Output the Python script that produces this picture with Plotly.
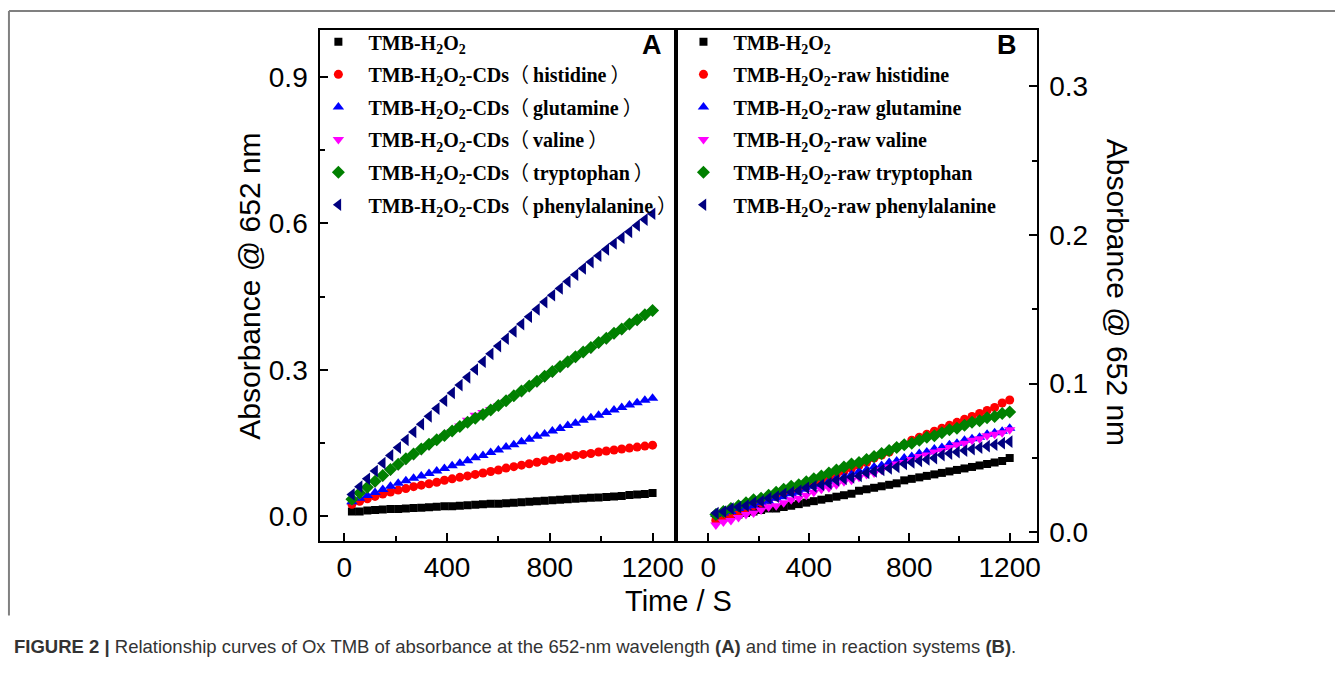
import plotly.graph_objects as go

W, H = 1342, 674

# ---------------- data ----------------
time_s = [30, 60, 90, 120, 150, 180, 210, 240, 270, 300, 330, 360, 390, 420, 450, 480, 510, 540, 570, 600,
          630, 660, 690, 720, 750, 780, 810, 840, 870, 900, 930, 960, 990, 1020, 1050, 1080, 1110, 1140, 1170, 1200]

a_tmb = [0.010, 0.010, 0.012, 0.013, 0.014, 0.015, 0.015, 0.016, 0.017, 0.018, 0.019, 0.020, 0.021, 0.021, 0.022,
         0.023, 0.024, 0.025, 0.026, 0.026, 0.027, 0.028, 0.029, 0.030, 0.031, 0.032, 0.033, 0.034, 0.035, 0.036,
         0.037, 0.038, 0.039, 0.040, 0.041, 0.042, 0.044, 0.045, 0.046, 0.048]
a_histidine = [0.025, 0.031, 0.036, 0.041, 0.046, 0.050, 0.054, 0.057, 0.061, 0.064, 0.067, 0.070, 0.074, 0.077,
               0.080, 0.083, 0.086, 0.089, 0.092, 0.095, 0.099, 0.102, 0.105, 0.108, 0.111, 0.114, 0.117, 0.120,
               0.122, 0.125, 0.127, 0.129, 0.132, 0.134, 0.136, 0.138, 0.140, 0.142, 0.144, 0.146]
a_glutamine = [0.030, 0.037, 0.043, 0.049, 0.055, 0.062, 0.068, 0.073, 0.078, 0.083, 0.088, 0.093, 0.098, 0.104,
               0.109, 0.114, 0.120, 0.125, 0.131, 0.136, 0.142, 0.147, 0.153, 0.158, 0.164, 0.169, 0.175, 0.180,
               0.186, 0.191, 0.197, 0.202, 0.207, 0.213, 0.218, 0.223, 0.228, 0.233, 0.238, 0.242]
a_valine = [0.032, 0.045, 0.057, 0.069, 0.081, 0.093, 0.104, 0.115, 0.125, 0.135, 0.145, 0.155, 0.164, 0.174,
            0.185, 0.197, 0.207, 0.213, 0.219, 0.226, 0.235, 0.245, 0.254, 0.264, 0.274, 0.284, 0.294, 0.304,
            0.314, 0.324, 0.334, 0.343, 0.353, 0.362, 0.372, 0.381, 0.391, 0.400, 0.410, 0.420]
a_tryptophan = [0.035, 0.048, 0.060, 0.072, 0.084, 0.096, 0.107, 0.118, 0.128, 0.138, 0.148, 0.157, 0.166, 0.175,
                0.184, 0.193, 0.201, 0.209, 0.218, 0.227, 0.237, 0.247, 0.257, 0.267, 0.277, 0.287, 0.297, 0.307,
                0.317, 0.327, 0.337, 0.346, 0.356, 0.365, 0.375, 0.384, 0.394, 0.403, 0.413, 0.422]
a_phenylalanine = [0.045, 0.061, 0.077, 0.093, 0.109, 0.125, 0.141, 0.157, 0.173, 0.189, 0.205, 0.221, 0.237,
                   0.253, 0.269, 0.285, 0.301, 0.317, 0.333, 0.349, 0.364, 0.379, 0.394, 0.409, 0.424, 0.439,
                   0.453, 0.467, 0.481, 0.495, 0.508, 0.521, 0.534, 0.547, 0.559, 0.571, 0.583, 0.596, 0.608, 0.620]

b_tmb = [0.009, 0.010, 0.011, 0.012, 0.013, 0.014, 0.015, 0.016, 0.016, 0.017, 0.018, 0.019, 0.020, 0.021, 0.022,
         0.023, 0.024, 0.025, 0.026, 0.028, 0.029, 0.030, 0.031, 0.032, 0.033, 0.035, 0.036, 0.037, 0.038, 0.039,
         0.040, 0.041, 0.042, 0.043, 0.044, 0.045, 0.046, 0.047, 0.048, 0.050]
b_histidine = [0.008, 0.010, 0.012, 0.014, 0.016, 0.018, 0.020, 0.022, 0.024, 0.026, 0.028, 0.029, 0.031, 0.033,
               0.035, 0.037, 0.039, 0.041, 0.043, 0.045, 0.047, 0.050, 0.052, 0.054, 0.057, 0.059, 0.062, 0.064,
               0.066, 0.068, 0.070, 0.072, 0.074, 0.076, 0.078, 0.080, 0.082, 0.084, 0.087, 0.089]
b_glutamine = [0.012, 0.013, 0.014, 0.016, 0.017, 0.018, 0.020, 0.021, 0.023, 0.024, 0.026, 0.027, 0.029, 0.031,
               0.032, 0.034, 0.036, 0.037, 0.039, 0.041, 0.042, 0.044, 0.045, 0.047, 0.048, 0.050, 0.051, 0.053,
               0.054, 0.056, 0.057, 0.059, 0.060, 0.062, 0.063, 0.064, 0.066, 0.067, 0.068, 0.070]
b_valine = [0.005, 0.007, 0.008, 0.010, 0.012, 0.013, 0.015, 0.017, 0.018, 0.020, 0.022, 0.023, 0.025, 0.027,
            0.029, 0.030, 0.032, 0.034, 0.035, 0.037, 0.039, 0.040, 0.042, 0.044, 0.046, 0.047, 0.049, 0.051,
            0.052, 0.054, 0.055, 0.057, 0.059, 0.060, 0.062, 0.063, 0.065, 0.066, 0.067, 0.069]
b_tryptophan = [0.012, 0.014, 0.016, 0.018, 0.020, 0.022, 0.023, 0.025, 0.027, 0.029, 0.031, 0.032, 0.034, 0.036,
                0.038, 0.040, 0.042, 0.044, 0.046, 0.047, 0.049, 0.051, 0.053, 0.055, 0.057, 0.059, 0.060, 0.062,
                0.064, 0.065, 0.067, 0.069, 0.070, 0.072, 0.074, 0.075, 0.077, 0.078, 0.080, 0.081]
b_phenylalanine = [0.013, 0.014, 0.016, 0.017, 0.018, 0.020, 0.021, 0.023, 0.024, 0.026, 0.027, 0.028, 0.030,
                   0.031, 0.032, 0.033, 0.035, 0.036, 0.037, 0.038, 0.040, 0.041, 0.042, 0.043, 0.044, 0.046,
                   0.047, 0.048, 0.049, 0.050, 0.052, 0.053, 0.054, 0.055, 0.056, 0.057, 0.058, 0.059, 0.060, 0.061]

LP = "<span style='font-family:Noto Sans CJK SC;font-weight:normal'>（</span>\u2009"
RP = "\u2009<span style='font-family:Noto Sans CJK SC;font-weight:normal'>）</span>"
names_a = ["TMB-H<sub>2</sub>O<sub>2</sub>",
           "TMB-H<sub>2</sub>O<sub>2</sub>-CDs" + LP + "histidine" + RP,
           "TMB-H<sub>2</sub>O<sub>2</sub>-CDs" + LP + "glutamine" + RP,
           "TMB-H<sub>2</sub>O<sub>2</sub>-CDs" + LP + "valine" + RP,
           "TMB-H<sub>2</sub>O<sub>2</sub>-CDs" + LP + "tryptophan" + RP,
           "TMB-H<sub>2</sub>O<sub>2</sub>-CDs" + LP + "phenylalanine" + RP]
names_b = ["TMB-H<sub>2</sub>O<sub>2</sub>",
           "TMB-H<sub>2</sub>O<sub>2</sub>-raw histidine",
           "TMB-H<sub>2</sub>O<sub>2</sub>-raw glutamine",
           "TMB-H<sub>2</sub>O<sub>2</sub>-raw valine",
           "TMB-H<sub>2</sub>O<sub>2</sub>-raw tryptophan",
           "TMB-H<sub>2</sub>O<sub>2</sub>-raw phenylalanine"]

series_a = [a_tmb, a_histidine, a_glutamine, a_valine, a_tryptophan, a_phenylalanine]
series_b = [b_tmb, b_histidine, b_glutamine, b_valine, b_tryptophan, b_phenylalanine]

colors = ["#000000", "#FF0000", "#0000FF", "#FF00FF", "#008000", "#000080"]
symbols = ["square", "circle", "triangle-up", "triangle-down", "diamond", "triangle-left"]
sizes = [8, 9, 10, 10, 10, 11]

# ---------------- figure ----------------
def px_x(p):
    return p / W


def px_y(p):
    return 1 - p / H


fig = go.Figure()

for i, (nm, ys) in enumerate(zip(names_a, series_a)):
    fig.add_trace(go.Scatter(x=time_s, y=ys, mode="markers", name=nm,
                             marker=dict(symbol=symbols[i], color=colors[i], size=sizes[i], line=dict(width=0)),
                             xaxis="x", yaxis="y", legend="legend", legendgroup="a%d" % i))
for i, (nm, ys) in enumerate(zip(names_b, series_b)):
    fig.add_trace(go.Scatter(x=time_s, y=ys, mode="markers", name=nm,
                             marker=dict(symbol=symbols[i], color=colors[i], size=sizes[i], line=dict(width=0)),
                             xaxis="x2", yaxis="y2", legend="legend2", legendgroup="b%d" % i))

tickfont = dict(family="Liberation Sans, Arial", size=28, color="black")
common = dict(showgrid=False, zeroline=False, showline=True, linewidth=2, linecolor="black", mirror=True,
              ticks="inside", ticklen=8, tickwidth=2, tickcolor="black", tickfont=tickfont)

legfont = dict(family="Liberation Serif, Times New Roman", size=20, color="black", weight="bold")
legcommon = dict(xanchor="left", yanchor="top", bgcolor="rgba(0,0,0,0)", borderwidth=0, font=legfont,
                 itemwidth=50, tracegroupgap=3.6, traceorder="grouped", itemsizing="trace")

fig.update_layout(
    width=W, height=H, margin=dict(l=0, r=0, t=0, b=0),
    paper_bgcolor="white", plot_bgcolor="white",
    xaxis=dict(domain=[px_x(322), px_x(680)], range=[-93, 1293], anchor="y", tick0=0, dtick=400,
               minor=dict(dtick=200, ticks="inside", ticklen=5, tickwidth=2, tickcolor="black", showgrid=False),
               ticklabelstandoff=0, **common),
    yaxis=dict(domain=[px_y(547), px_y(30)], range=[-0.051, 0.997], anchor="x", tick0=0, dtick=0.3,
               tickformat=".1f",
               minor=dict(dtick=0.15, ticks="inside", ticklen=5, tickwidth=2, tickcolor="black", showgrid=False),
               ticklabelstandoff=5, **common),
    xaxis2=dict(domain=[px_x(680), px_x(1042)], range=[-127, 1307], anchor="y2", tick0=0, dtick=400,
                minor=dict(dtick=200, ticks="inside", ticklen=5, tickwidth=2, tickcolor="black", showgrid=False),
                ticklabelstandoff=0, **common),
    yaxis2=dict(domain=[px_y(547), px_y(30)], range=[-0.006, 0.338], anchor="x2", side="right", tick0=0,
                dtick=0.1, tickformat=".1f",
                minor=dict(dtick=0.05, ticks="inside", ticklen=5, tickwidth=2, tickcolor="black", showgrid=False),
                ticklabelstandoff=5, **common),
    legend=dict(x=px_x(310), y=px_y(22.5), **legcommon),
    legend2=dict(x=px_x(677), y=px_y(22.5), **legcommon),
    showlegend=True,
)

annots = [
    dict(text="<b>A</b>", x=px_x(655), y=px_y(45), font=dict(family="Liberation Sans, Arial", size=27, color="black")),
    dict(text="<b>B</b>", x=px_x(1012), y=px_y(45), font=dict(family="Liberation Sans, Arial", size=27, color="black")),
    dict(text="Absorbance @ 652 nm", x=px_x(251), y=px_y(289), textangle=-90,
         font=dict(family="Liberation Sans, Arial", size=30, color="black")),
    dict(text="Absorbance @ 652 nm", x=px_x(1123), y=px_y(295), textangle=90,
         font=dict(family="Liberation Sans, Arial", size=30, color="black")),
    dict(text="Time / S", x=px_x(682), y=px_y(607),
         font=dict(family="Liberation Sans, Arial", size=29, color="black")),
    dict(text="<b>FIGURE 2 |</b> Relationship curves of Ox TMB of absorbance at the 652-nm wavelength <b>(A)</b> "
              "and time in reaction systems <b>(B)</b>.",
         x=px_x(12), y=px_y(653), xanchor="left",
         font=dict(family="Liberation Sans, Arial", size=18.5, color="#333333")),
]
for a in annots:
    a.setdefault("xanchor", "center")
    a.setdefault("yanchor", "middle")
    fig.add_annotation(xref="paper", yref="paper", showarrow=False, **a)

# outer page border (grey)
fig.add_shape(type="line", xref="paper", yref="paper", x0=px_x(9), x1=1, y0=px_y(11), y1=px_y(11),
              line=dict(color="#808080", width=2))
fig.add_shape(type="line", xref="paper", yref="paper", x0=px_x(9), x1=px_x(9), y0=px_y(11), y1=px_y(622),
              line=dict(color="#808080", width=2))

fig.write_html("out.html")
